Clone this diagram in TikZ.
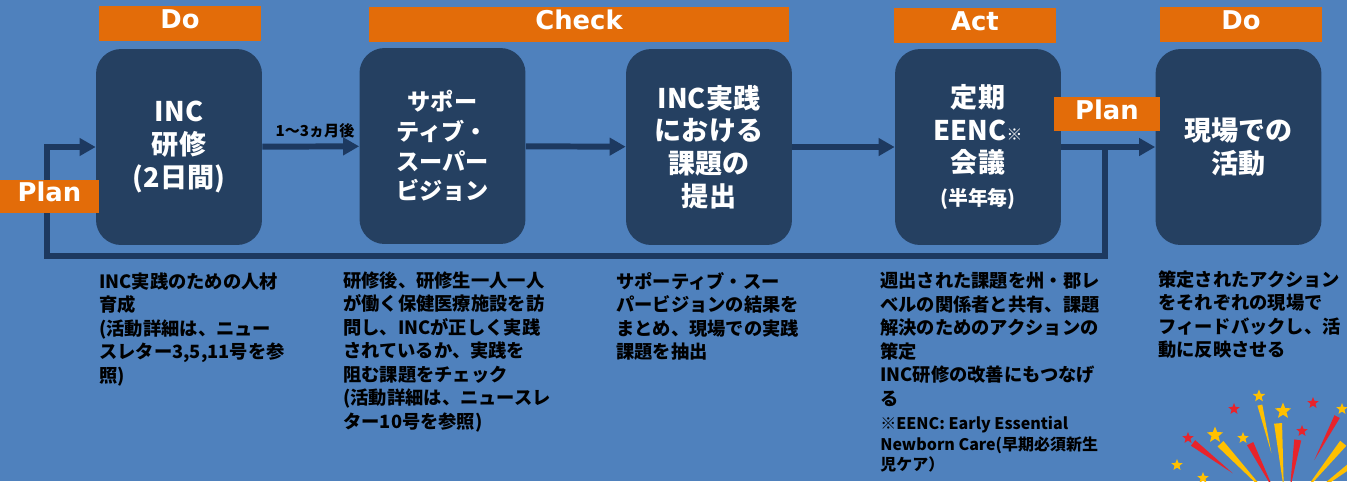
\documentclass[tikz,border=0pt]{standalone}
\usepackage{fontspec}
\setmainfont{Noto Sans CJK JP}
\newfontfamily\latfont{DejaVu Sans}
\usetikzlibrary{arrows.meta,shapes.geometric,calc}

\definecolor{bgblue}{HTML}{4F81BD}
\definecolor{navy}{HTML}{254061}
\definecolor{linenavy}{HTML}{1D3960}
\definecolor{phase}{HTML}{E36C09}
\definecolor{sparkyellow}{HTML}{FFC000}
\definecolor{sparkred}{HTML}{E8232B}

\tikzset{
  stepbox/.style={fill=navy, rounded corners=0.5cm, minimum width=3.32cm,
    minimum height=3.92cm, inner sep=0pt, text=white, align=center,
    font=\bfseries\fontsize{15.4}{18.7}\selectfont},
  phasetag/.style={fill=phase, text=white, inner sep=0pt, minimum height=0.7cm,
    text height=1.5ex, text depth=0.35ex,
    font=\latfont\bfseries\fontsize{14.7}{16}\selectfont},
  flow/.style={draw=linenavy, line width=3.4pt, -{Triangle[length=0.32cm,width=0.34cm]}},
  note/.style={anchor=north west, align=left, inner sep=0pt,
    font=\bfseries\fontsize{10.4}{13.4}\selectfont},
  smallnote/.style={note, font=\bfseries\fontsize{9.1}{11.6}\selectfont},
  spark/.style={star, star points=5, star point ratio=2.3, inner sep=0pt, draw=none},
}

\begin{document}
\begin{tikzpicture}[x=0.02cm, y=-0.02cm]
  % background, 1347 x 481
  \fill[bgblue] (0,0) rectangle (1347,481);
  \useasboundingbox (0,0) rectangle (1347,481);

  % the five steps
  \node[stepbox] (b1) at (179,147) {INC\\研修\\(2日間)};
  \node[stepbox, font=\bfseries\fontsize{13.2}{17}\selectfont] (b2) at (442.5,146)
    {サポー\\ティブ・\\スーパー\\ビジョン};
  \node[stepbox] (b3) at (709,147) {INC実践\\における\\課題の\\提出};
  \node[stepbox] (b4) at (978,147)
    {定期\\EENC{\fontsize{9}{9}\selectfont ※}\\会議\\{\fontsize{11.3}{14}\selectfont (半年毎)}};
  \node[stepbox] (b5) at (1238.5,147) {現場での\\活動};

  % connectors
  \draw[flow] (b1) -- (b2);
  \draw[flow] (b2) -- (b3);
  \draw[flow] (b3) -- (b4);
  \draw[flow] (b4) -- (b5);
  \node[font=\bfseries\fontsize{8.6}{10}\selectfont] (lag) at (315,131) {1〜3ヵ月後};

  % feedback loop back to the first step
  \coordinate (fork) at ($(b4.east)!0.47!(b5.west)$);
  \coordinate (back) at (47,256);
  \draw[flow] (fork) |- (back) |- (b1.west);

  % PDCA tags
  \node[phasetag, minimum width=3.24cm] (do1) at (180,23.5) {Do};
  \node[phasetag, minimum width=8.4cm] (check) at (579,24) {Check};
  \node[phasetag, minimum width=3.24cm] (act) at (975,25) {Act};
  \node[phasetag, minimum width=3.24cm] (do2) at (1241,24) {Do};
  \node[phasetag, minimum width=1.98cm, minimum height=0.66cm] (planL) at (49.5,196.5) {Plan};
  \node[phasetag, minimum width=2.12cm, minimum height=0.68cm] (planR) at (1107,114) {Plan};

  % notes under each step
  \node[note] (n1) at (99,272)
    {INC実践のための人材\\育成\\(活動詳細は、ニュー\\スレター3,5,11号を参\\照)};
  \node[note] (n2) at (343,271)
    {研修後、研修生一人一人\\が働く保健医療施設を訪\\問し、INCが正しく実践\\されているか、実践を\\阻む課題をチェック\\(活動詳細は、ニュースレ\\ター10号を参照)};
  \node[note] (n3) at (616,272)
    {サポーティブ・スー\\パービジョンの結果を\\まとめ、現場での実践\\課題を抽出};
  \node[note] (n4) at (880,272)
    {週出された課題を州・郡レ\\ベルの関係者と共有、課題\\解決のためのアクションの\\策定\\INC研修の改善にもつなげ\\る};
  \node[smallnote] (n4b) at (880,416)
    {※EENC: Early Essential\\Newborn Care(早期必須新生\\児ケア）};
  \node[note] (n5) at (1158,270)
    {策定されたアクション\\をそれぞれの現場で\\フィードバックし、活\\動に反映させる};

  % fireworks in the corner
  \begin{scope}
    \clip (0,0) rectangle (1347,481);
    \coordinate (burst) at (1286,514);
    \foreach \ang/\rin/\rout/\w/\col in {
        142.6/67/117/3.5/sparkred, 133/25/96/4/sparkyellow,
        117/25/79/3.5/sparkred, 103.5/63/112/2.5/sparkyellow,
        95/25/91/4/sparkyellow, 81/25/75/3.5/sparkred,
        62.3/61/110/3/sparkred, 51/25/91/4/sparkyellow,
        37/25/105/4/sparkyellow}
      \fill[\col] ($(burst)+(-\ang:\rin)$)
        -- ($(burst)+(-\ang:\rout)+(-\ang+90:\w)$)
        -- ($(burst)+(-\ang:\rout)+(-\ang-90:\w)$) -- cycle;
    \foreach \sx/\sy/\sd/\col [count=\i] in {
        1188/438/12/sparkred, 1215/435/17/sparkyellow, 1234/409/12/sparkred,
        1243/438/12/sparkyellow, 1259/396/13/sparkyellow, 1283/411/17/sparkyellow,
        1302/431/12/sparkred, 1313/403/12/sparkred, 1342/409/12/sparkyellow,
        1177/465/12/sparkyellow, 1203/478/12/sparkyellow}
      \node[spark, fill=\col, minimum size={\sd*0.02cm}] (star\i) at (\sx,\sy) {};
  \end{scope}
\end{tikzpicture}
\end{document}
